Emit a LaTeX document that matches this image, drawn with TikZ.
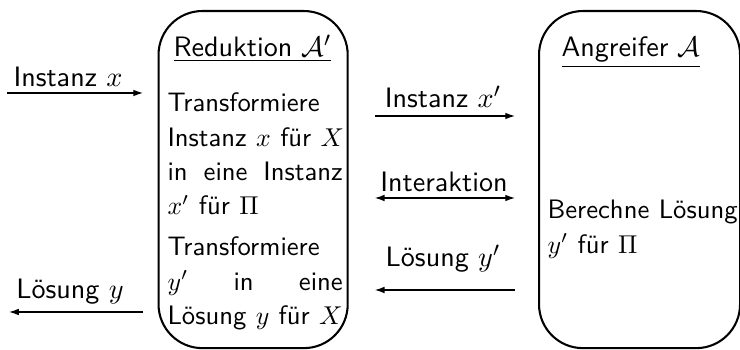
\documentclass[tikz,border=0pt]{standalone}
\usetikzlibrary{arrows.meta}
\newcommand\pfont{\fontsize{10.35}{13.3}\selectfont\setlength\baselineskip{13.3pt}}
\newcommand\jline[1]{\leavevmode\hbox to 68pt{#1}}
\begin{document}
\begin{tikzpicture}[x=0.388pt,y=-0.388pt,
  every node/.style={font=\sffamily\fontsize{10.9}{13}\selectfont, inner sep=0pt},
  box/.style={draw, line width=0.8pt, rounded corners=17pt, anchor=north west},
  lbl/.style={anchor=base},
  para/.style={anchor=base west, text width=80pt, align=left},
  arr/.style={line width=0.5pt, -{Latex[length=3.8pt,width=2.6pt]}},
  darr/.style={line width=0.5pt, {Latex[length=3.8pt,width=2.6pt]}-{Latex[length=3.8pt,width=2.6pt]}}]
\useasboundingbox (0,0) rectangle (740,350);
% boxes
\node[box, minimum width=73.4pt, minimum height=130.8pt] (red) at (157.5,10) {};
\node[box, minimum width=78pt, minimum height=130.8pt] (ang) at (538,10) {};
% titles
\node[lbl] (t1) at (252.5,57) {\underline{Reduktion $\mathcal{A}'$}};
\node[lbl] (t2) at (631,57) {\underline{Angreifer $\mathcal{A}$}};
% paragraphs
\node[para] (p1) at (167,112) {\pfont Transformiere\\ Instanz $x$ für $X$\\ \jline{in\hfill eine\hfill Instanz}\\ $x'$ für $\Pi$\par};
\node[para] (p2) at (167,256) {\pfont Transformiere\\ \jline{$y'$\hfill in\hfill eine}\\ Lösung $y$ für $X$\par};
\node[para] (p3) at (547,219) {\pfont Berechne Lösung\\ $y'$ für $\Pi$\par};
% left arrows
\coordinate (inx) at (7,93);
\coordinate (outy) at (9,312);
\draw[arr, shorten >=5.6pt] (inx) -- (red.west |- inx);
\draw[arr, shorten <=5.6pt] (red.west |- outy) -- (outy);
\node[lbl] (l1) at (68,87) {Instanz $x$};
\node[lbl] (l2) at (70,299) {Lösung $y$};
% middle arrows
\coordinate (m1) at (440,116);
\coordinate (m2) at (440,198);
\coordinate (m3) at (440,290);
\draw[arr, shorten <=10.1pt, shorten >=8.9pt] (red.east |- m1) -- (ang.west |- m1);
\draw[darr, shorten <=10.1pt, shorten >=8.9pt] (red.east |- m2) -- (ang.west |- m2);
\draw[arr, shorten >=10.1pt, shorten <=8.9pt] (ang.west |- m3) -- (red.east |- m3);
\node[lbl] (l3) at (443,108) {Instanz $x'$};
\node[lbl] (l4) at (444,192) {Interaktion};
\node[lbl] (l5) at (443,267) {Lösung $y'$};
\end{tikzpicture}
\end{document}
